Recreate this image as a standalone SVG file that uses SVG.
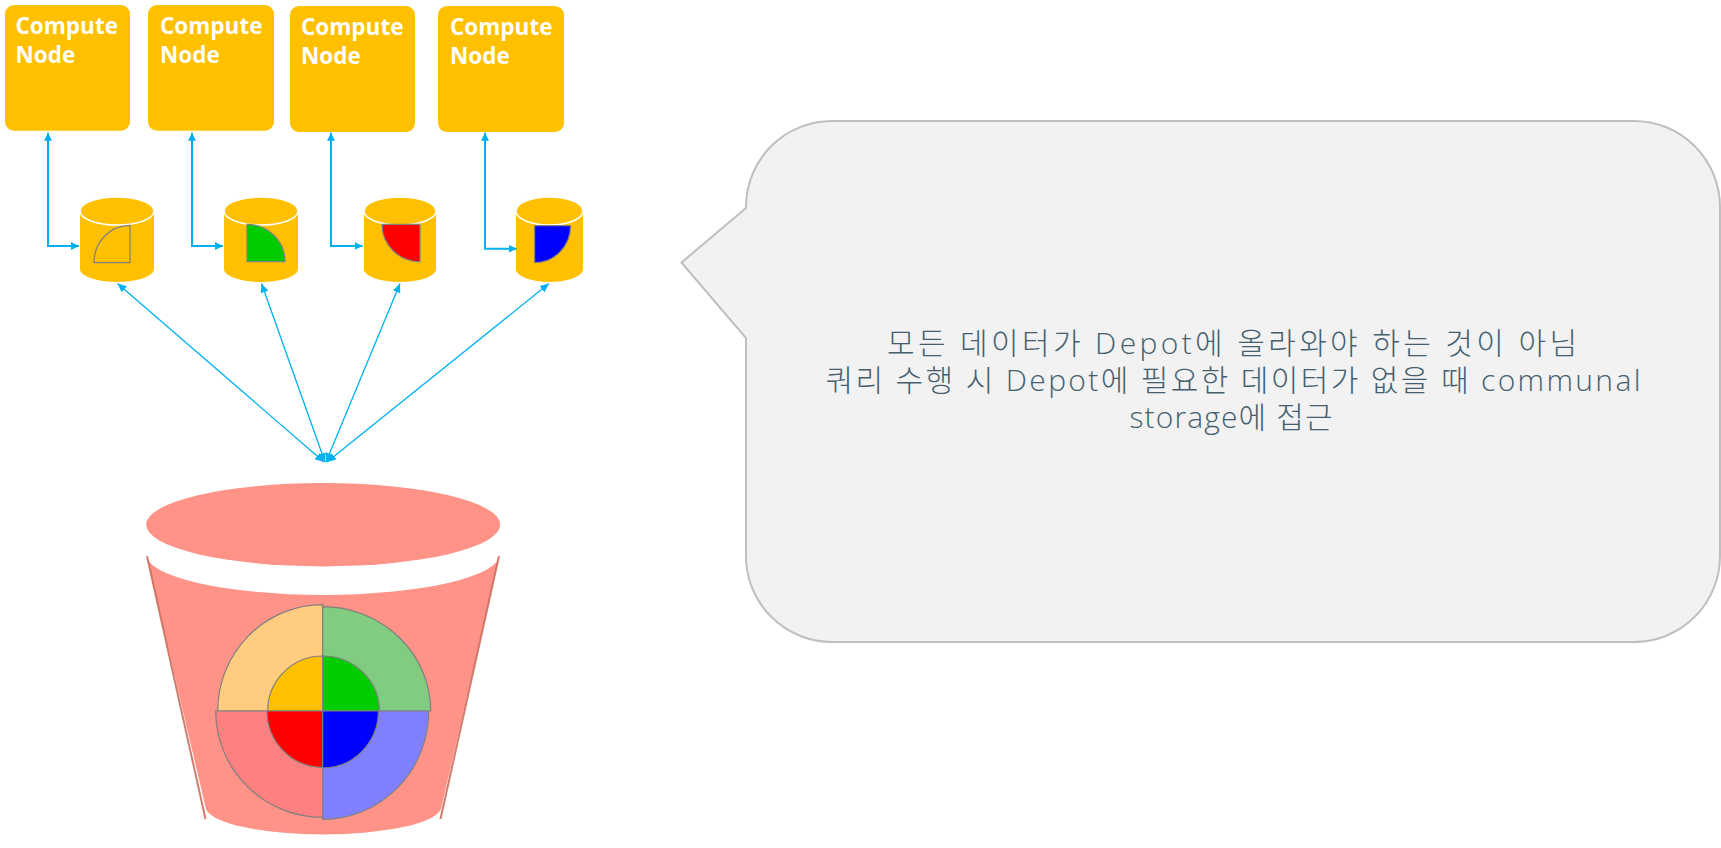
<svg xmlns="http://www.w3.org/2000/svg" width="1721" height="848" viewBox="0 0 1721 848">
<style>
.node{fill:#FFC000}
.nt{font-family:"Open Sans","Noto Sans",sans-serif;font-weight:700;font-size:22.500px;fill:#fff}
.cyl{fill:#FFC000}
.lid{fill:#FFC000;stroke:#fff;stroke-width:1.6}
.q{stroke:#7F7F7F;stroke-width:1.2}
.el{fill:none;stroke:#00B0F0;stroke-width:2;marker-start:url(#ah);marker-end:url(#ah)}
.di{fill:none;stroke:#00B0F0;stroke-width:1.300;marker-start:url(#ah2);marker-end:url(#ah2)}
.ct{font-family:"Open Sans","Noto Sans CJK KR",sans-serif;font-weight:300;font-size:30px;fill:#44606F;text-anchor:middle}
</style>
<defs>
<marker id="ah" markerUnits="userSpaceOnUse" markerWidth="9" markerHeight="9" refX="8" refY="4" orient="auto-start-reverse"><path d="M0,0L8,4L0,8Z" fill="#00B0F0"/></marker>
<marker id="ah2" markerUnits="userSpaceOnUse" markerWidth="10" markerHeight="9" refX="9" refY="4" orient="auto-start-reverse"><path d="M0,0L9,4L0,8Z" fill="#00B0F0"/></marker>
</defs>
<rect width="1721" height="848" fill="#fff"/>
<g id="node-1"><rect class="node" x="5" y="5" width="125" height="125.700" rx="9"/><text class="nt" x="15.500" y="34">Compute</text><text class="nt" x="15.500" y="63">Node</text></g>
<g id="node-2"><rect class="node" x="148" y="5" width="126" height="125.700" rx="9"/><text class="nt" x="160" y="34">Compute</text><text class="nt" x="160" y="63">Node</text></g>
<g id="node-3"><rect class="node" x="290" y="6" width="125" height="126" rx="9"/><text class="nt" x="301" y="35">Compute</text><text class="nt" x="301" y="64">Node</text></g>
<g id="node-4"><rect class="node" x="438" y="6" width="126" height="126" rx="9"/><text class="nt" x="450" y="35">Compute</text><text class="nt" x="450" y="64">Node</text></g>
<g id="depot-1"><path class="cyl" d="M80,211H154V269A37,13 0 0 1 80,269Z"/><ellipse class="lid" cx="117" cy="211" rx="37" ry="14"/><path d="M130,262.700H94A36,37.400 0 0 1 130,225.300Z" fill="#FFC000" class="q"/></g>
<g id="depot-2"><path class="cyl" d="M224,211H298V269A37,13 0 0 1 224,269Z"/><ellipse class="lid" cx="261" cy="211" rx="37" ry="14"/><path d="M247,261.700V224.300A38,37.400 0 0 1 285,261.700Z" fill="#00CC00" class="q"/></g>
<g id="depot-3"><path class="cyl" d="M364,211H436V269A36,13 0 0 1 364,269Z"/><ellipse class="lid" cx="400" cy="211" rx="36" ry="14"/><path d="M420,224.300H382A38,37.400 0 0 0 420,261.700Z" fill="#FF0000" class="q"/></g>
<g id="depot-4"><path class="cyl" d="M516,211H583V269A33.500,13 0 0 1 516,269Z"/><ellipse class="lid" cx="549.500" cy="211" rx="33.500" ry="14"/><path d="M534.600,225.700H570.600A36,37 0 0 1 534.600,262.700Z" fill="#0000FF" class="q"/></g>
<g id="communal-storage">
<path d="M146,554A177,41 0 0 0 500,554L441,809A118,28 0 0 1 206,809Z" fill="#FF9388"/>
<path d="M147,556L205.500,819M499,556L440.500,819" fill="none" stroke="#CC6E5E" stroke-width="2" stroke-opacity="0.900"/>
<ellipse cx="323.200" cy="524.700" rx="177" ry="41.700" fill="#FF9388"/>
<path class="q" d="M322.700,711H217.700A105,106.300 0 0 1 322.700,604.700Z" fill="#FFCC80"/>
<path class="q" d="M322.700,711V606.700A108,104.300 0 0 1 430.700,711Z" fill="#82CC82"/>
<path class="q" d="M322.700,711H215.700A107,106.300 0 0 0 322.700,817.300Z" fill="#FF8080"/>
<path class="q" d="M322.700,711H428.700A106,108.300 0 0 1 322.700,819.300Z" fill="#8080FF"/>
<path class="q" d="M322.700,711H267.700A55,55 0 0 1 322.700,656Z" fill="#FFC000"/>
<path class="q" d="M322.700,711V656A56.700,55 0 0 1 379.400,711Z" fill="#00CC00"/>
<path class="q" d="M322.700,711H267A55.700,56.300 0 0 0 322.700,767.300Z" fill="#FF0000"/>
<path class="q" d="M322.700,711H378.400A55.700,57 0 0 1 322.700,768Z" fill="#0000FF"/>
</g>
<g id="callout"><path d="M832,121H1634A86,86 0 0 1 1720,207V556A86,86 0 0 1 1634,642H832A86,86 0 0 1 746,556V338L681.500,262.500L746,208A86,86 0 0 1 832,121Z" fill="#F2F2F2" stroke="#BFBFBF" stroke-width="2"/>
<text class="ct" x="1232" y="354" textLength="690">모든 데이터가 Depot에 올라와야 하는 것이 아님</text>
<text class="ct" x="1233" y="391" textLength="815">쿼리 수행 시 Depot에 필요한 데이터가 없을 때 communal</text>
<text class="ct" x="1231" y="428" textLength="203">storage에 접근</text></g>
<g id="connectors">
<path class="el" d="M48,132.700V246H79"/>
<path class="el" d="M192,132.700V246H223"/>
<path class="el" d="M331,132.700V246H362.500"/>
<path class="el" d="M485,132.700V248.700H516.500"/>
<path class="di" d="M324,462L117.500,283.500"/>
<path class="di" d="M325,462L261.500,283.500"/>
<path class="di" d="M326,462L400,283.500"/>
<path class="di" d="M327,462L549,283.500"/>
</g>
</svg>
